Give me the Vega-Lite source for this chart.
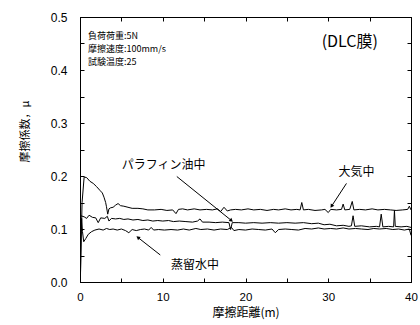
{
  "$schema": "https://vega.github.io/schema/vega-lite/v6.json",
  "width": 331,
  "height": 265,
  "autosize": {"type": "none"},
  "padding": {"left": 80, "top": 17, "right": 9, "bottom": 43},
  "background": "white",
  "config": {
    "view": {"stroke": "black", "strokeWidth": 1},
    "axis": {"grid": false, "domainColor": "black", "tickColor": "black", "labelColor": "black", "titleColor": "black", "labelFont": "Liberation Sans", "labelFontSize": 12, "titleFont": "Noto Sans CJK JP", "titleFontSize": 12, "titleFontWeight": "normal", "tickSize": -4, "domainWidth": 1}
  },
  "datasets": {
    "lines": [
      {"s": "air", "x": 0.05, "y": 0.01}, {"s": "air", "x": 0.25, "y": 0.15}, {"s": "air", "x": 0.5, "y": 0.198}, {"s": "air", "x": 0.8, "y": 0.197}, {"s": "air", "x": 1.2, "y": 0.19}, {"s": "air", "x": 1.6, "y": 0.186}, {"s": "air", "x": 2.0, "y": 0.18}, {"s": "air", "x": 2.4, "y": 0.173}, {"s": "air", "x": 2.7, "y": 0.168}, {"s": "air", "x": 2.9, "y": 0.16}, {"s": "air", "x": 3.1, "y": 0.15}, {"s": "air", "x": 3.2, "y": 0.142}, {"s": "air", "x": 3.35, "y": 0.128}, {"s": "air", "x": 3.5, "y": 0.138}, {"s": "air", "x": 3.7, "y": 0.14}, {"s": "air", "x": 4.0, "y": 0.141}, {"s": "air", "x": 4.3, "y": 0.145}, {"s": "air", "x": 4.6, "y": 0.148}, {"s": "air", "x": 4.9, "y": 0.144}, {"s": "air", "x": 5.3, "y": 0.143}, {"s": "air", "x": 5.8, "y": 0.141}, {"s": "air", "x": 6.3, "y": 0.139}, {"s": "air", "x": 7.0, "y": 0.139}, {"s": "air", "x": 7.6, "y": 0.138}, {"s": "air", "x": 8.2, "y": 0.136}, {"s": "air", "x": 9.0, "y": 0.136}, {"s": "air", "x": 9.8, "y": 0.137}, {"s": "air", "x": 10.5, "y": 0.135}, {"s": "air", "x": 11.2, "y": 0.136}, {"s": "air", "x": 11.6, "y": 0.129}, {"s": "air", "x": 11.9, "y": 0.137}, {"s": "air", "x": 12.4, "y": 0.138}, {"s": "air", "x": 13.0, "y": 0.136}, {"s": "air", "x": 13.8, "y": 0.138}, {"s": "air", "x": 14.5, "y": 0.136}, {"s": "air", "x": 15.3, "y": 0.137}, {"s": "air", "x": 16.0, "y": 0.136}, {"s": "air", "x": 16.6, "y": 0.138}, {"s": "air", "x": 17.0, "y": 0.133}, {"s": "air", "x": 17.4, "y": 0.141}, {"s": "air", "x": 17.8, "y": 0.134}, {"s": "air", "x": 18.2, "y": 0.136}, {"s": "air", "x": 18.8, "y": 0.137}, {"s": "air", "x": 19.5, "y": 0.136}, {"s": "air", "x": 20.3, "y": 0.138}, {"s": "air", "x": 21.0, "y": 0.136}, {"s": "air", "x": 21.8, "y": 0.137}, {"s": "air", "x": 22.6, "y": 0.135}, {"s": "air", "x": 23.4, "y": 0.137}, {"s": "air", "x": 24.0, "y": 0.136}, {"s": "air", "x": 24.8, "y": 0.138}, {"s": "air", "x": 25.5, "y": 0.136}, {"s": "air", "x": 26.2, "y": 0.137}, {"s": "air", "x": 26.6, "y": 0.136}, {"s": "air", "x": 26.8, "y": 0.15}, {"s": "air", "x": 27.0, "y": 0.136}, {"s": "air", "x": 27.6, "y": 0.137}, {"s": "air", "x": 28.4, "y": 0.135}, {"s": "air", "x": 29.2, "y": 0.136}, {"s": "air", "x": 29.6, "y": 0.137}, {"s": "air", "x": 30.0, "y": 0.131}, {"s": "air", "x": 30.3, "y": 0.137}, {"s": "air", "x": 31.0, "y": 0.136}, {"s": "air", "x": 31.6, "y": 0.137}, {"s": "air", "x": 31.8, "y": 0.147}, {"s": "air", "x": 32.0, "y": 0.136}, {"s": "air", "x": 32.6, "y": 0.137}, {"s": "air", "x": 32.9, "y": 0.152}, {"s": "air", "x": 33.1, "y": 0.136}, {"s": "air", "x": 33.8, "y": 0.137}, {"s": "air", "x": 34.5, "y": 0.136}, {"s": "air", "x": 35.3, "y": 0.138}, {"s": "air", "x": 36.0, "y": 0.136}, {"s": "air", "x": 36.8, "y": 0.137}, {"s": "air", "x": 37.5, "y": 0.136}, {"s": "air", "x": 38.2, "y": 0.135}, {"s": "air", "x": 39.0, "y": 0.136}, {"s": "air", "x": 39.6, "y": 0.137}, {"s": "air", "x": 39.8, "y": 0.143}, {"s": "air", "x": 40.0, "y": 0.136},
      {"s": "oil", "x": 0.1, "y": 0.125}, {"s": "oil", "x": 0.5, "y": 0.123}, {"s": "oil", "x": 0.8, "y": 0.12}, {"s": "oil", "x": 1.1, "y": 0.126}, {"s": "oil", "x": 1.5, "y": 0.122}, {"s": "oil", "x": 1.9, "y": 0.121}, {"s": "oil", "x": 2.2, "y": 0.112}, {"s": "oil", "x": 2.5, "y": 0.121}, {"s": "oil", "x": 3.0, "y": 0.12}, {"s": "oil", "x": 3.3, "y": 0.124}, {"s": "oil", "x": 3.5, "y": 0.115}, {"s": "oil", "x": 3.8, "y": 0.12}, {"s": "oil", "x": 4.3, "y": 0.119}, {"s": "oil", "x": 4.8, "y": 0.12}, {"s": "oil", "x": 5.3, "y": 0.118}, {"s": "oil", "x": 5.8, "y": 0.119}, {"s": "oil", "x": 6.4, "y": 0.117}, {"s": "oil", "x": 7.0, "y": 0.118}, {"s": "oil", "x": 7.6, "y": 0.116}, {"s": "oil", "x": 8.2, "y": 0.117}, {"s": "oil", "x": 8.8, "y": 0.115}, {"s": "oil", "x": 9.4, "y": 0.116}, {"s": "oil", "x": 10.0, "y": 0.115}, {"s": "oil", "x": 10.7, "y": 0.116}, {"s": "oil", "x": 11.3, "y": 0.114}, {"s": "oil", "x": 12.0, "y": 0.115}, {"s": "oil", "x": 12.8, "y": 0.114}, {"s": "oil", "x": 13.6, "y": 0.113}, {"s": "oil", "x": 14.2, "y": 0.115}, {"s": "oil", "x": 14.5, "y": 0.119}, {"s": "oil", "x": 14.8, "y": 0.113}, {"s": "oil", "x": 15.6, "y": 0.113}, {"s": "oil", "x": 16.4, "y": 0.112}, {"s": "oil", "x": 17.2, "y": 0.113}, {"s": "oil", "x": 18.0, "y": 0.112}, {"s": "oil", "x": 18.2, "y": 0.099}, {"s": "oil", "x": 18.4, "y": 0.112}, {"s": "oil", "x": 19.2, "y": 0.112}, {"s": "oil", "x": 20.0, "y": 0.111}, {"s": "oil", "x": 21.0, "y": 0.112}, {"s": "oil", "x": 22.0, "y": 0.111}, {"s": "oil", "x": 23.0, "y": 0.112}, {"s": "oil", "x": 24.0, "y": 0.111}, {"s": "oil", "x": 25.0, "y": 0.112}, {"s": "oil", "x": 26.0, "y": 0.111}, {"s": "oil", "x": 27.0, "y": 0.112}, {"s": "oil", "x": 28.0, "y": 0.11}, {"s": "oil", "x": 28.8, "y": 0.111}, {"s": "oil", "x": 29.5, "y": 0.108}, {"s": "oil", "x": 30.2, "y": 0.109}, {"s": "oil", "x": 31.0, "y": 0.106}, {"s": "oil", "x": 31.8, "y": 0.107}, {"s": "oil", "x": 32.5, "y": 0.105}, {"s": "oil", "x": 32.8, "y": 0.106}, {"s": "oil", "x": 33.0, "y": 0.125}, {"s": "oil", "x": 33.2, "y": 0.105}, {"s": "oil", "x": 34.0, "y": 0.106}, {"s": "oil", "x": 35.0, "y": 0.104}, {"s": "oil", "x": 35.8, "y": 0.105}, {"s": "oil", "x": 36.2, "y": 0.104}, {"s": "oil", "x": 36.4, "y": 0.128}, {"s": "oil", "x": 36.6, "y": 0.104}, {"s": "oil", "x": 37.3, "y": 0.105}, {"s": "oil", "x": 37.9, "y": 0.104}, {"s": "oil", "x": 38.0, "y": 0.135}, {"s": "oil", "x": 38.1, "y": 0.105}, {"s": "oil", "x": 38.8, "y": 0.104}, {"s": "oil", "x": 39.5, "y": 0.105}, {"s": "oil", "x": 40.0, "y": 0.103},
      {"s": "water", "x": 0.05, "y": 0.0}, {"s": "water", "x": 0.12, "y": 0.09}, {"s": "water", "x": 0.2, "y": 0.12}, {"s": "water", "x": 0.3, "y": 0.095}, {"s": "water", "x": 0.45, "y": 0.076}, {"s": "water", "x": 0.7, "y": 0.082}, {"s": "water", "x": 1.0, "y": 0.09}, {"s": "water", "x": 1.4, "y": 0.095}, {"s": "water", "x": 1.8, "y": 0.098}, {"s": "water", "x": 2.3, "y": 0.1}, {"s": "water", "x": 2.8, "y": 0.098}, {"s": "water", "x": 3.2, "y": 0.101}, {"s": "water", "x": 3.6, "y": 0.099}, {"s": "water", "x": 4.0, "y": 0.1}, {"s": "water", "x": 4.5, "y": 0.098}, {"s": "water", "x": 5.0, "y": 0.1}, {"s": "water", "x": 5.5, "y": 0.097}, {"s": "water", "x": 5.9, "y": 0.093}, {"s": "water", "x": 6.3, "y": 0.099}, {"s": "water", "x": 6.8, "y": 0.097}, {"s": "water", "x": 7.3, "y": 0.099}, {"s": "water", "x": 7.8, "y": 0.1}, {"s": "water", "x": 8.3, "y": 0.098}, {"s": "water", "x": 8.6, "y": 0.103}, {"s": "water", "x": 8.9, "y": 0.098}, {"s": "water", "x": 9.5, "y": 0.099}, {"s": "water", "x": 10.2, "y": 0.098}, {"s": "water", "x": 11.0, "y": 0.099}, {"s": "water", "x": 11.8, "y": 0.098}, {"s": "water", "x": 12.5, "y": 0.1}, {"s": "water", "x": 13.2, "y": 0.098}, {"s": "water", "x": 14.0, "y": 0.101}, {"s": "water", "x": 14.6, "y": 0.099}, {"s": "water", "x": 15.4, "y": 0.1}, {"s": "water", "x": 16.2, "y": 0.098}, {"s": "water", "x": 17.0, "y": 0.1}, {"s": "water", "x": 17.8, "y": 0.099}, {"s": "water", "x": 18.3, "y": 0.103}, {"s": "water", "x": 18.6, "y": 0.097}, {"s": "water", "x": 19.2, "y": 0.099}, {"s": "water", "x": 20.0, "y": 0.098}, {"s": "water", "x": 20.8, "y": 0.1}, {"s": "water", "x": 21.6, "y": 0.099}, {"s": "water", "x": 22.4, "y": 0.098}, {"s": "water", "x": 23.2, "y": 0.1}, {"s": "water", "x": 23.6, "y": 0.093}, {"s": "water", "x": 24.0, "y": 0.099}, {"s": "water", "x": 24.8, "y": 0.1}, {"s": "water", "x": 25.6, "y": 0.099}, {"s": "water", "x": 26.4, "y": 0.098}, {"s": "water", "x": 27.2, "y": 0.101}, {"s": "water", "x": 28.0, "y": 0.1}, {"s": "water", "x": 28.8, "y": 0.102}, {"s": "water", "x": 29.5, "y": 0.1}, {"s": "water", "x": 30.3, "y": 0.101}, {"s": "water", "x": 31.0, "y": 0.1}, {"s": "water", "x": 31.8, "y": 0.102}, {"s": "water", "x": 32.5, "y": 0.1}, {"s": "water", "x": 33.3, "y": 0.101}, {"s": "water", "x": 34.0, "y": 0.1}, {"s": "water", "x": 34.8, "y": 0.099}, {"s": "water", "x": 35.5, "y": 0.101}, {"s": "water", "x": 36.2, "y": 0.1}, {"s": "water", "x": 37.0, "y": 0.101}, {"s": "water", "x": 37.8, "y": 0.099}, {"s": "water", "x": 38.5, "y": 0.1}, {"s": "water", "x": 39.2, "y": 0.098}, {"s": "water", "x": 39.8, "y": 0.1}, {"s": "water", "x": 40.0, "y": 0.088}
    ],
    "info": [
      {"x": 0.97, "y": 0.464, "t": "負荷荷重:5N"},
      {"x": 0.97, "y": 0.44, "t": "摩擦速度:100mm/s"},
      {"x": 0.97, "y": 0.416, "t": "試験温度:25"}
    ],
    "labels": [
      {"x": 10.1, "y": 0.221, "t": "パラフィン油中"},
      {"x": 33.4, "y": 0.208, "t": "大気中"},
      {"x": 13.9, "y": 0.032, "t": "蒸留水中"}
    ],
    "title": [{"x": 32.6, "y": 0.453, "t": "(DLC膜)"}],
    "arrows": [
      {"a": "oil", "x": 11.7, "y": 0.199, "x2": 18.3, "y2": 0.116},
      {"a": "air", "x": 32.2, "y": 0.186, "x2": 30.4, "y2": 0.143},
      {"a": "water", "x": 9.7, "y": 0.051, "x2": 7.0, "y2": 0.084}
    ]
  },
  "layer": [
    {
      "data": {"name": "lines"},
      "mark": {"type": "line", "color": "black", "strokeWidth": 1, "clip": true},
      "encoding": {
        "x": {"field": "x", "type": "quantitative", "scale": {"domain": [0, 40], "nice": false},
          "axis": {"orient": "bottom", "values": [0, 5, 10, 15, 20, 25, 30, 35, 40], "labelExpr": "datum.value % 10 === 0 ? datum.label : ''", "title": "摩擦距離(m)", "labelFontSize": 11.5, "labelPadding": 13, "titlePadding": 5, "labelFlush": false}},
        "y": {"field": "y", "type": "quantitative", "scale": {"domain": [0, 0.5], "nice": false},
          "axis": {"orient": "left", "values": [0, 0.05, 0.1, 0.15, 0.2, 0.25, 0.3, 0.35, 0.4, 0.45, 0.5], "labelExpr": "round(datum.value * 100) % 10 === 0 ? format(datum.value, '.1f') : ''", "title": "摩擦係数，μ", "titleFontSize": 11, "labelPadding": 17, "titleX": -50, "titleY": 114}},
        "detail": {"field": "s", "type": "nominal"},
        "order": {"field": "x", "type": "quantitative"}
      }
    },
    {
      "data": {"name": "lines"},
      "mark": {"type": "point", "opacity": 0},
      "encoding": {
        "x": {"field": "x", "type": "quantitative", "scale": {"domain": [0, 40], "nice": false},
          "axis": {"orient": "top", "values": [0, 5, 10, 15, 20, 25, 30, 35, 40], "labels": false, "title": null}},
        "y": {"field": "y", "type": "quantitative", "scale": {"domain": [0, 0.5], "nice": false},
          "axis": {"orient": "right", "values": [0, 0.05, 0.1, 0.15, 0.2, 0.25, 0.3, 0.35, 0.4, 0.45, 0.5], "labels": false, "title": null}}
      }
    },
    {
      "data": {"name": "info"},
      "mark": {"type": "text", "align": "left", "baseline": "middle", "font": "Noto Sans CJK JP", "fontSize": 9, "color": "black"},
      "encoding": {
        "x": {"field": "x", "type": "quantitative", "axis": null},
        "y": {"field": "y", "type": "quantitative", "axis": null},
        "text": {"field": "t"}
      }
    },
    {
      "data": {"name": "labels"},
      "mark": {"type": "text", "align": "center", "baseline": "middle", "font": "Noto Sans CJK JP", "fontSize": 12, "color": "black"},
      "encoding": {
        "x": {"field": "x", "type": "quantitative", "axis": null},
        "y": {"field": "y", "type": "quantitative", "axis": null},
        "text": {"field": "t"}
      }
    },
    {
      "data": {"name": "title"},
      "mark": {"type": "text", "align": "center", "baseline": "middle", "font": "Noto Sans CJK JP", "fontSize": 16, "color": "black"},
      "encoding": {
        "x": {"field": "x", "type": "quantitative", "axis": null},
        "y": {"field": "y", "type": "quantitative", "axis": null},
        "text": {"field": "t"}
      }
    },
    {
      "data": {"name": "arrows"},
      "mark": {"type": "rule", "color": "black", "strokeWidth": 1},
      "encoding": {
        "x": {"field": "x", "type": "quantitative", "axis": null},
        "y": {"field": "y", "type": "quantitative", "axis": null},
        "x2": {"field": "x2"},
        "y2": {"field": "y2"}
      }
    },
    {
      "data": {"name": "arrows"},
      "transform": [{"filter": "datum.a === 'oil'"}],
      "mark": {"type": "point", "shape": "triangle-up", "filled": true, "color": "black", "size": 18, "angle": 129, "opacity": 1},
      "encoding": {
        "x": {"field": "x2", "type": "quantitative", "axis": null},
        "y": {"field": "y2", "type": "quantitative", "axis": null}
      }
    },
    {
      "data": {"name": "arrows"},
      "transform": [{"filter": "datum.a === 'air'"}],
      "mark": {"type": "point", "shape": "triangle-up", "filled": true, "color": "black", "size": 18, "angle": 213, "opacity": 1},
      "encoding": {
        "x": {"field": "x2", "type": "quantitative", "axis": null},
        "y": {"field": "y2", "type": "quantitative", "axis": null}
      }
    },
    {
      "data": {"name": "arrows"},
      "transform": [{"filter": "datum.a === 'water'"}],
      "mark": {"type": "point", "shape": "triangle-up", "filled": true, "color": "black", "size": 18, "angle": 309, "opacity": 1},
      "encoding": {
        "x": {"field": "x2", "type": "quantitative", "axis": null},
        "y": {"field": "y2", "type": "quantitative", "axis": null}
      }
    }
  ],
  "resolve": {"axis": {"x": "independent", "y": "independent"}}
}
